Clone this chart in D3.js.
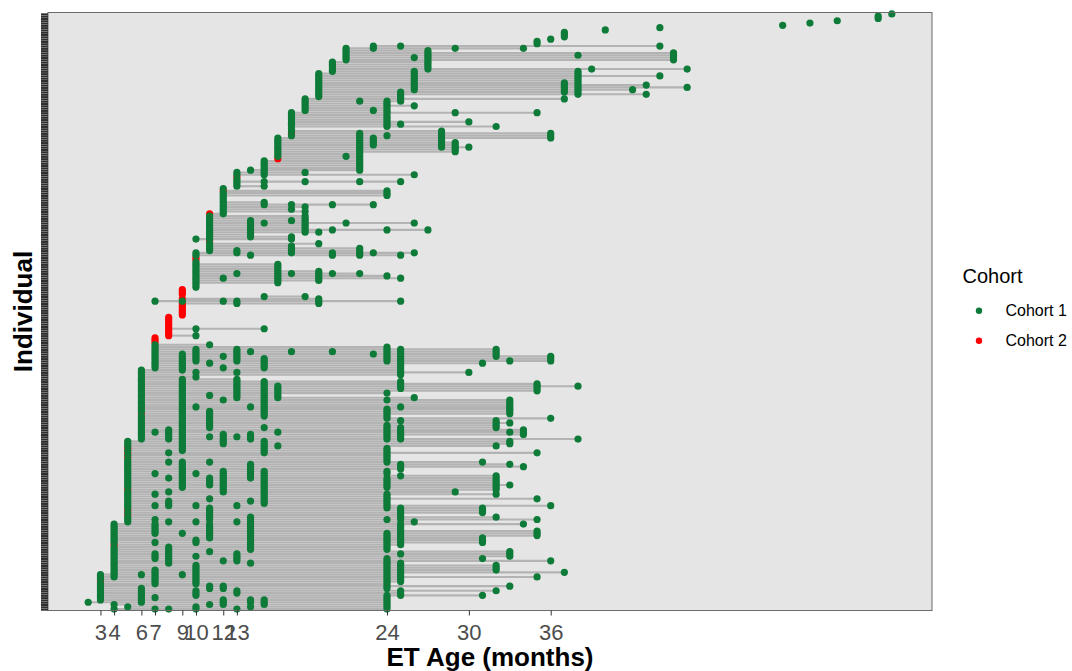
<!DOCTYPE html>
<html>
<head>
<meta charset="utf-8">
<script src="https://cdn.jsdelivr.net/npm/d3@7"></script>
<style>
  html, body { margin: 0; padding: 0; background: #ffffff; }
  svg { display: block; font-family: "Liberation Sans", Arial, Helvetica, sans-serif; }
</style>
</head>
<body>
<svg id="chart" width="1072" height="671"></svg>
<script>
// Visit ages (months) for each individual, listed from the bottom row to the top row
const visitAges = [
  [4,7,8,10,13,24],[5,10,14,24],[4,11,12,15,24],[2.1,6,12,14,15,24],[3,6,12,14,15,24],
  [3,6,7,24],[3,6,10,24,25,31],[3,6,10,13,25],[3,6,10,13,25,32],[3,6,11,12,24],
  [3,11,12,24,33],[3,7,10,24],[3,7,10,24,25],[3,7,10,24,25],[3,4,7,10,24,25,35],
  [3,4,6,7,9,10,24,25],[4,7,10,24,25,37],[4,7,10,24,25,32],[4,10,24,25,32],[4,10,24,25,32],
  [4,8,14,24,25],[4,8,12,13,24,36],[4,7,8,13,24,31],[4,7,8,10,13,33],[4,7,8,13,25,33],
  [4,8,11,33],[4,8,14,24],[4,8,14,24],[4,14,24,25],[4,7,10,14,24,25,31],
  [4,10,14,24,25,31],[4,11,14,24,25,31],[4,11,14,24,25,35],[4,7,9,11,14,24,25,35],[4,7,11,14,25,35],
  [4,7,11,14,25],[4,7,11,14,25],[4,7,11,14,25,34],[5,8,10,13,14,26],[5,7,11,14,24,25,35],
  [5,11,14,25,32],[5,11,25],[5,11,25,31],[5,11,25,31],[5,11,24,25,31],
  [5,7,8,10,13,24,36],[5,8,15,24],[5,8,14,15,24],[5,11,15,24,35],[5,15,24],
  [5,7,15,24,32],[5,8,12,15,29],[5,12,15,32],[5,9,12,15,24,32],[5,9,11,12,15,24,32,33],
  [5,9,11,12,15,24,32],[5,9,11,12,15,24,32],[5,8,9,11,12,14,15,24,32],[5,9,12,14,15,25,32],[5,7,9,10,12,14,15,24],
  [5,9,12,14,15,24],[5,9,14,25],[5,9,14,25,34],[5,9,14,25,33],[5,8,9,11,24,31],
  [5,24],[5,24],[5,24],[5,8,15,24,35],[5,9,15,24],
  [5,9,15,24],[5,9,15,16,32],[5,9,12,15,33],[5,9,12,15,33],[6,8,9,12,14,24,25,38],
  [6,8,9,11,12,13,14,24,25],[6,8,9,12,14,24,25,34],[6,7,8,9,16,24,25,33,34],[6,8,9,24,25,34],[6,9,11,15,24,25,32],
  [6,9,11,24,32],[6,9,11,32,33],[6,9,11,25,32],[6,9,11,24,36],[6,9,11,15,24],
  [6,9,11,15,24,33],[6,9,11,15,24,33],[6,9,15,24,33],[6,9,10,14,15,25,33],[6,9,15,33],
  [6,9,15,33],[6,9,12,15,24,33],[6,9,13,15,16,26],[6,9,11,13,15,16],[6,9,13,15,16,24],
  [6,9,13,15,16,35],[6,9,13,15,16,25,35],[6,9,13,15,16,25,35,38],[6,9,13,15,25,35],[6,9,13,15,25],
  [6,9,13],[6,10],[6,25],[6,10,13,25,30],[6,9,25],
  [7,9,12,15,25],[7,9,15,25],[7,9,11,15,25,31],[7,9,10,13,15,24,25,33,36],[7,9,10,13,15,24,25,36],
  [7,9,10,12,13,24,25,32,36],[7,9,10,13,23,24,25,32],[7,10,13,14,17,20,24,25,32],[7,10,13,24,25,32],[7,24],
  [7,11],[7],[7],[7],[8,10],
  [8],[8],[8,10,15],[8],[8],
  [8],[8],[8],[9],[9],
  [9],[9],[9],[9,13,19],[7,9,12,13,19,25],
  [9,19],[15,18],[9],[9],[9],
  [10],[10],[10,16],[10,16,19],[10,12,16,19,25],
  [10,16,19,24],[10,13,16,17,19,20,22],[10,16,19],[10,16],[10,16],
  [10,16],[10],[10],[10],[10,14,20,22,25],
  [10,13,17,20,22,23,26],[11,13,17,22],[11,17,22],[11,17],[11,19],
  [11],[10,11,17],[11,14,17],[11,14],[11,14,18,19],
  [11,14,18,20,24,27],[11,14,18],[11,14,18],[11,14,15,18,21,26],[11,14,17,18],
  [11,18],[11,18],[11,12],[12,18],[12,17],
  [12,18],[12,15,17,20,23],[12,15],[12],[12],
  [12,24],[12,24],[12,24],[12],[13,15],
  [13],[13,15,18,22,25],[13],[13],[13,15,26],
  [13,15,18],[14,15,22],[15,22],[15,22],[15,22],
  [15,22],[16,22],[16,21,22],[16,22],[16,22,29],
  [16,22,29],[16,22,28,29,30],[16,22,23,28,29],[16,22,23,28,29],[16,22,23,28],
  [16,22,23,28,36],[17,22,24,28,36],[17,22,28,36],[17,28],[17],
  [17,24,32],[17,24,25],[17,24,30],[17,24],[17,24],
  [17,24],[17,24,29,35],[18,23,24],[18,24],[18,24,26],
  [18,24],[18,22,24,25],[18,25,37],[19,25],[19,25,38,43],
  [19,25,37,38],[19,26,37,38,42],[19,26,37,38,46],[19,26,37,38,43],[19,26,37,38],
  [19,26,38],[19,26,38],[19,26,38,44],[19,26,38],[20,26,38],
  [20,27,39,46],[20,27],[20,27],[20,27],[21,27,45],
  [21,26,27,45],[21,27,38,45],[21,27,45],[21,27],[21,23,29,34],
  [23,25,44],[35],[35],[36],[37],
  [37],[37],[40],[44],[53],
  [55],[57],[60],[60],[61]
];

// Rows (counted from the bottom) whose first visit was recorded in Cohort 2
const cohort2FirstVisit = [
  12, 28, 41, 43, 52, 66, 68, 70, 85, 116, 117, 118,
  119, 120, 121, 122, 123, 124, 125, 126, 127, 128, 129, 130, 131, 132, 133,
  135, 137, 138, 139, 152, 153, 160, 172, 182, 188, 196, 207
];

const xTickValues = [3, 4, 6, 7, 9, 10, 12, 13, 24, 30, 36];
const cohortNames = ["Cohort 1", "Cohort 2"];

// ---- layout ----
const panel = { left: 48, right: 932, top: 12.5, bottom: 610.5 };
const colors = { "Cohort 1": "#0e7b39", "Cohort 2": "#ff0000" };

const svg = d3.select("#chart");

// flatten visits into points
const redRows = new Set(cohort2FirstVisit);
const rows = visitAges.map((ages, i) => ({ id: i, ages }));
const points = [];
rows.forEach(r => {
  const first = d3.min(r.ages);
  r.ages.forEach(a => {
    const cohort = (redRows.has(r.id) && a === first) ? "Cohort 2" : "Cohort 1";
    points.push({ id: r.id, age: a, cohort });
  });
});

// scales: 5% padding on the continuous axis, 0.6 step padding on the discrete axis
const [lo, hi] = d3.extent(points, d => d.age);
const pad = (hi - lo) * 0.05;
const x = d3.scaleLinear().domain([lo - pad, hi + pad]).range([panel.left, panel.right]);
const y = d3.scalePoint().domain(rows.map(r => r.id)).range([panel.bottom, panel.top]).padding(0.6);

// panel background
svg.append("rect")
  .attr("x", panel.left).attr("y", panel.top)
  .attr("width", panel.right - panel.left).attr("height", panel.bottom - panel.top)
  .attr("fill", "#e5e5e5");

const plot = svg.append("g");

// follow-up span for each individual
plot.append("g").selectAll("line")
  .data(rows.filter(r => r.ages.length > 1))
  .join("line")
  .attr("x1", r => x(d3.min(r.ages)))
  .attr("x2", r => x(d3.max(r.ages)))
  .attr("y1", r => y(r.id))
  .attr("y2", r => y(r.id))
  .attr("stroke", "#b3b3b3")
  .attr("stroke-width", 2.1);

// visits: Cohort 2 first, Cohort 1 drawn above
const ordered = points.filter(p => p.cohort === "Cohort 2").concat(points.filter(p => p.cohort === "Cohort 1"));
plot.append("g").selectAll("circle")
  .data(ordered)
  .join("circle")
  .attr("cx", p => x(p.age))
  .attr("cy", p => y(p.id))
  .attr("r", 3.6)
  .attr("fill", p => colors[p.cohort]);

// panel border
svg.append("rect")
  .attr("x", panel.left).attr("y", panel.top)
  .attr("width", panel.right - panel.left).attr("height", panel.bottom - panel.top)
  .attr("fill", "none").attr("stroke", "#6b6b6b").attr("stroke-width", 1);

// x axis
const xAxis = svg.append("g")
  .attr("transform", `translate(0,${panel.bottom})`)
  .call(d3.axisBottom(x).tickValues(xTickValues).tickSize(5).tickPadding(9).tickFormat(d3.format("d")));
xAxis.select(".domain").remove();
xAxis.selectAll(".tick line").attr("stroke", "#333333");
xAxis.selectAll(".tick text")
  .attr("fill", "#4d4d4d")
  .style("font-size", "22px")
  .style("font-family", "'Liberation Sans', Arial, sans-serif");

// y axis: one tick per individual, packed into a dense strip
const yAxis = svg.append("g")
  .attr("transform", `translate(${panel.left},0)`)
  .call(d3.axisLeft(y).tickSize(7).tickFormat(() => ""));
yAxis.select(".domain").remove();
yAxis.selectAll(".tick line").attr("stroke", "#2e2e2e").attr("stroke-width", 2.1);

// axis titles
svg.append("text")
  .attr("x", (panel.left + panel.right) / 2)
  .attr("y", 666)
  .attr("text-anchor", "middle")
  .style("font-size", "26px").style("font-weight", "bold")
  .attr("fill", "#000")
  .text("ET Age (months)");

svg.append("text")
  .attr("transform", `translate(32,${(panel.top + panel.bottom) / 2}) rotate(-90)`)
  .attr("text-anchor", "middle")
  .style("font-size", "26px").style("font-weight", "bold")
  .attr("fill", "#000")
  .text("Individual");

// legend
const legend = svg.append("g");
legend.append("text")
  .attr("x", 962.5).attr("y", 282.5)
  .style("font-size", "20px").attr("fill", "#000")
  .text("Cohort");
cohortNames.forEach((name, i) => {
  const cy = 310.7 + i * 30;
  legend.append("circle").attr("cx", 979).attr("cy", cy).attr("r", 3.2).attr("fill", colors[name]);
  legend.append("text")
    .attr("x", 1005.5).attr("y", cy + 5.7)
    .style("font-size", "16px").attr("fill", "#000")
    .text(name);
});
</script>
</body>
</html>
